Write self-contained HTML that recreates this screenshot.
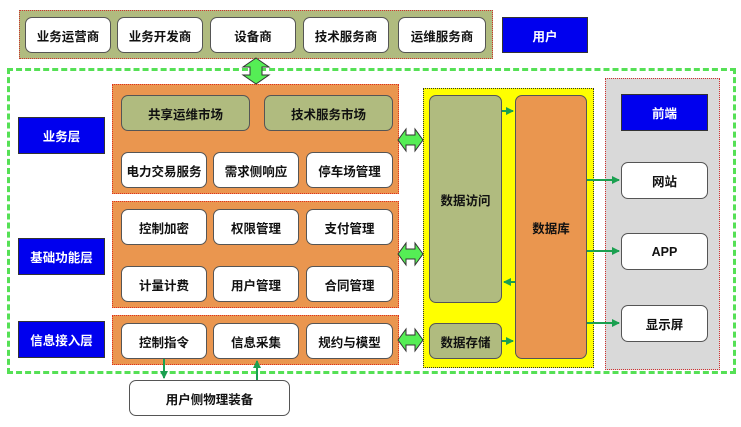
<!DOCTYPE html>
<html><head><meta charset="utf-8"><style>
body{margin:0;width:741px;height:427px;background:#fff;position:relative;overflow:hidden;font-family:"Liberation Sans","Noto Sans CJK SC",sans-serif;font-weight:bold;font-size:12.5px;color:#111}
div{position:absolute;box-sizing:border-box}
.n{background:#fff;border:1px solid #555;border-radius:7px;display:flex;align-items:center;justify-content:center}
.g{background:#b0bb7f;border:1px solid #555;border-radius:7px;display:flex;align-items:center;justify-content:center}
.b{background:#0000ee;color:#fff;border:1px solid #333;display:flex;align-items:center;justify-content:center}
.o{background:#ea964f;border:1px dotted #e03020}
</style></head><body>
<div style="left:19px;top:10px;width:474px;height:49px;background:#b0bb7f;border:1px dotted #d03030"></div>
<div class="n" style="left:25px;top:17px;width:86px;height:36px">业务运营商</div>
<div class="n" style="left:117px;top:17px;width:86px;height:36px">业务开发商</div>
<div class="n" style="left:210px;top:17px;width:86px;height:36px">设备商</div>
<div class="n" style="left:303px;top:17px;width:86px;height:36px">技术服务商</div>
<div class="n" style="left:398px;top:17px;width:88px;height:36px">运维服务商</div>
<div class="b" style="left:502px;top:17px;width:86px;height:36px">用户</div>

<div style="left:7px;top:68px;width:729px;height:306px;border:3px dashed #55e055"></div>

<div class="b" style="left:18px;top:117px;width:87px;height:37px">业务层</div>
<div class="b" style="left:18px;top:238px;width:87px;height:37px">基础功能层</div>
<div class="b" style="left:18px;top:321px;width:87px;height:37px">信息接入层</div>

<div class="o" style="left:112px;top:84px;width:287px;height:110px"></div>
<div class="g" style="left:121px;top:95px;width:129px;height:36px">共享运维市场</div>
<div class="g" style="left:264px;top:95px;width:129px;height:36px">技术服务市场</div>
<div class="n" style="left:121px;top:152px;width:86px;height:36px">电力交易服务</div>
<div class="n" style="left:213px;top:152px;width:86px;height:36px">需求侧响应</div>
<div class="n" style="left:306px;top:152px;width:87px;height:36px">停车场管理</div>

<div class="o" style="left:112px;top:201px;width:287px;height:107px"></div>
<div class="n" style="left:121px;top:209px;width:86px;height:36px">控制加密</div>
<div class="n" style="left:213px;top:209px;width:86px;height:36px">权限管理</div>
<div class="n" style="left:306px;top:209px;width:87px;height:36px">支付管理</div>
<div class="n" style="left:121px;top:266px;width:86px;height:36px">计量计费</div>
<div class="n" style="left:213px;top:266px;width:86px;height:36px">用户管理</div>
<div class="n" style="left:306px;top:266px;width:87px;height:36px">合同管理</div>

<div class="o" style="left:112px;top:315px;width:287px;height:50px"></div>
<div class="n" style="left:121px;top:323px;width:86px;height:36px">控制指令</div>
<div class="n" style="left:213px;top:323px;width:86px;height:36px">信息采集</div>
<div class="n" style="left:306px;top:323px;width:87px;height:36px">规约与模型</div>

<div class="n" style="left:129px;top:380px;width:161px;height:36px">用户侧物理装备</div>

<div style="left:423px;top:88px;width:171px;height:280px;background:#ffff00;border:1px dotted #333"></div>
<div class="g" style="left:429px;top:95px;width:73px;height:208px">数据访问</div>
<div class="g" style="left:429px;top:323px;width:73px;height:36px">数据存储</div>
<div class="g" style="left:515px;top:95px;width:72px;height:264px;background:#ea964f">数据库</div>

<div style="left:605px;top:78px;width:115px;height:292px;background:#d9d9d9;border:1px dotted #d03030"></div>
<div class="b" style="left:621px;top:94px;width:87px;height:37px">前端</div>
<div class="n" style="left:621px;top:162px;width:87px;height:37px">网站</div>
<div class="n" style="left:621px;top:233px;width:87px;height:37px">APP</div>
<div class="n" style="left:621px;top:305px;width:87px;height:37px">显示屏</div>

<svg width="741" height="427" style="position:absolute;left:0;top:0">
<defs><marker id="a" markerWidth="4" markerHeight="4" refX="3.5" refY="2" orient="auto"><path d="M0,0L4,2L0,4z" fill="#1aa050"/></marker>
<g id="h"><path d="M0,0 L8,-11 L8,-5 L17,-5 L17,-11 L25,0 L17,11 L17,5 L8,5 L8,11 Z" fill="#55ee55" stroke="#333" stroke-width="1"/></g></defs>
<path d="M256,58 L269,67 L262,67 L262,75 L269,75 L256,84 L243,75 L250,75 L250,67 L243,67 Z" fill="#55ee55" stroke="#333"/>
<use href="#h" x="398" y="140"/>
<use href="#h" x="398" y="254"/>
<use href="#h" x="398" y="340"/>
<g stroke="#1aa050" stroke-width="2" fill="none" marker-end="url(#a)">
<line x1="502" y1="111" x2="513" y2="111"/>
<line x1="515" y1="282" x2="504" y2="282"/>
<line x1="502" y1="341" x2="513" y2="341"/>
<line x1="587" y1="180" x2="619" y2="180"/>
<line x1="587" y1="251" x2="619" y2="251"/>
<line x1="587" y1="323" x2="619" y2="323"/>
<line x1="164" y1="359" x2="164" y2="378"/>
<line x1="257" y1="380" x2="257" y2="361"/>
</g>
</svg>
</body></html>
